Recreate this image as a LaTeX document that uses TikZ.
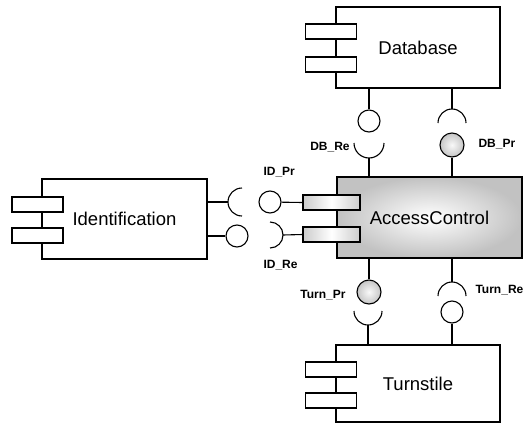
\documentclass[tikz,border=0pt]{standalone}
\usepackage{fontspec}
\setmainfont{Liberation Sans}
\usetikzlibrary{positioning}

\begin{document}
\begin{tikzpicture}[
        x=1pt, y=1pt,
        every path/.style={line width=1.1pt},
        comp/.style={draw, minimum width=164pt, minimum height=81pt, inner sep=0pt, font=\fontsize{18.5}{20}\selectfont},
        tab/.style={draw, fill=white, minimum width=51pt, minimum height=15pt, inner sep=0pt},
        gtab/.style={tab, left color=gray!40, right color=gray!40, middle color=white},
        prov/.style={draw, circle, fill=white, minimum size=22pt, inner sep=0pt},
        gprov/.style={prov, minimum size=24pt, inner color=gray!5, outer color=gray!45},
        lbl/.style={inner sep=0pt, font=\bfseries\fontsize{12}{12}\selectfont}
    ]
    \useasboundingbox (0,0) rectangle (525,-426);

    % Nodes
    \node (db)[comp] at (418,-47.5) {Database};
    \node (dbt1)[tab] at (331,-31.5) {};
    \node (dbt2)[tab] at (331,-64.5) {};

    \node (ac)[comp, minimum width=185pt, inner color=white, outer color=gray!48] at (429.5,-217.5) {AccessControl};
    \node (act1)[gtab, minimum width=57pt] at (331.5,-202.5) {};
    \node (act2)[gtab, minimum width=57pt] at (331.5,-234.5) {};

    \node (idf)[comp, minimum width=165pt, minimum height=80pt] at (124.5,-219) {Identification};
    \node (idt1)[tab] at (37.5,-204.5) {};
    \node (idt2)[tab] at (37.5,-235.5) {};

    \node (ts)[comp, minimum height=77pt] at (418,-383.5) {Turnstile};
    \node (tst1)[tab] at (331,-369.5) {};
    \node (tst2)[tab] at (331,-400.5) {};

    % interfaces
    \node (dbout)[prov] at (369,-121) {};
    \coordinate (dbin) at (452,-123);
    \coordinate (dbre) at (369,-143);
    \node (dbpr)[gprov] at (452,-145) {};

    \node (idpr)[prov] at (270,-202) {};
    \coordinate (idre) at (270,-235);
    \coordinate (idin) at (242,-202);
    \node (idout)[prov] at (237,-236) {};

    \node (tnpr)[gprov] at (369,-292) {};
    \coordinate (tnin) at (368,-311);
    \coordinate (tnre) at (452,-296);
    \node (tnout)[prov] at (452,-312) {};

    % Labels
    \node (lDBRe)[lbl] at (330,-147) {DB\_Re};
    \node (lDBPr)[lbl, anchor=west] at (478,-144) {DB\_Pr};
    \node (lIDPr)[lbl, anchor=west] at (263,-172) {ID\_Pr};
    \node (lIDRe)[lbl, anchor=west] at (263,-265) {ID\_Re};
    \node (lTnPr)[lbl] at (323,-295) {Turn\_Pr};
    \node (lTnRe)[lbl, anchor=west] at (475,-290) {Turn\_Re};

    % Edges
    \draw (db.south -| dbout) -- (dbout);
    \draw (db.south -| dbin) -- ([yshift=14pt]dbin);
    \draw ([xshift=14pt]dbin) arc (0:180:14pt);

    \draw ([xshift=-15pt]dbre) arc (180:360:15pt);
    \draw ([yshift=-15pt]dbre) -- (ac.north -| dbre);
    \draw (dbpr) -- (ac.north -| dbpr);

    \draw (idpr) -- (act1.west);
    \draw ([yshift=13pt]idre) arc (90:-90:13pt);
    \draw ([xshift=13pt]idre) -- (act2.west);

    \draw (idf.east |- idin) -- ([xshift=-14pt]idin);
    \draw ([yshift=14pt]idin) arc (90:270:14pt);
    \draw (idf.east |- idout) -- (idout);

    \draw (ac.south -| tnpr) -- (tnpr);
    \draw ([xshift=-14pt]tnin) arc (180:360:14pt);
    \draw ([yshift=-14pt]tnin) -- (ts.north -| tnin);

    \draw (ac.south -| tnre) -- ([yshift=14pt]tnre);
    \draw ([xshift=14pt]tnre) arc (0:180:14pt);
    \draw (tnout) -- (ts.north -| tnout);

\end{tikzpicture}
\end{document}
